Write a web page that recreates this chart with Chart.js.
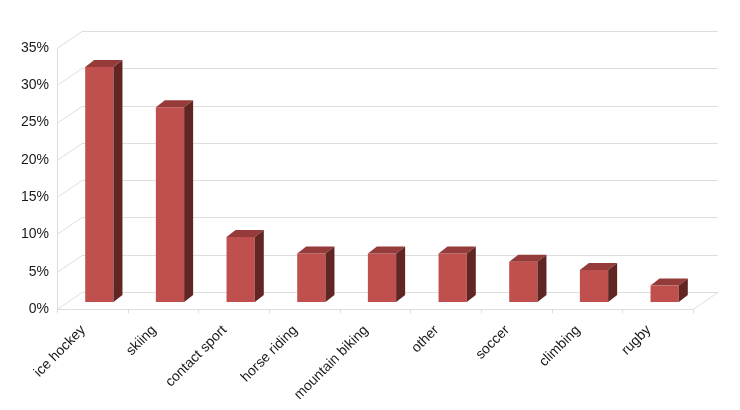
<!DOCTYPE html>
<html lang="en">
<head>
    <meta charset="UTF-8">
    <title>Injuries by sport</title>
    <script src="https://cdn.jsdelivr.net/npm/chart.js"></script>
    <style>
        body { margin: 0; background: #fff; }
        #wrap { width: 740px; height: 410px; position: relative; }
    </style>
</head>
<body>
    <div id="wrap">
        <canvas id="myChart"></canvas>
    </div>

    <script>
        // data
        const categories = ['ice hockey', 'skiing', 'contact sport', 'horse riding', 'mountain biking', 'other', 'soccer', 'climbing', 'rugby'];
        const shares = [31.5, 26.1, 8.7, 6.5, 6.5, 6.5, 5.4, 4.3, 2.2];
        const yMin = 0;
        const yMax = 35;
        const yStep = 5;

        // oblique "3d" offsets (px)
        const wall = { dx: 25, dy: -17 };
        const shift = { dx: 7, dy: -7 };
        const depth = { dx: 9, dy: -7 };

        const gridColor = '#dedede';

        const box3d = {
            id: 'box3d',
            beforeDatasetsDraw(chart) {
                const ctx = chart.ctx;
                const x = chart.scales.x, y = chart.scales.y;
                const { left, right, top, bottom } = chart.chartArea;
                ctx.save();
                ctx.strokeStyle = gridColor;
                ctx.lineWidth = 1;
                // back wall gridlines + side diagonals
                y.ticks.forEach(t => {
                    const py = Math.round(y.getPixelForValue(t.value)) + 0.5;
                    ctx.beginPath();
                    ctx.moveTo(left, py);
                    ctx.lineTo(left + wall.dx, py + wall.dy);
                    ctx.lineTo(right + wall.dx, py + wall.dy);
                    ctx.stroke();
                });
                // front axis line
                ctx.beginPath();
                ctx.moveTo(left + 0.5, top);
                ctx.lineTo(left + 0.5, bottom);
                ctx.stroke();
                // floor front edge
                const by = Math.round(bottom) + 0.5;
                ctx.beginPath();
                ctx.moveTo(left, by);
                ctx.lineTo(right, by);
                ctx.lineTo(right + wall.dx, by + wall.dy);
                ctx.stroke();
                // category ticks
                for (let i = 0; i <= categories.length; i++) {
                    const px = Math.round(x.getPixelForValue(i - 0.5)) + 0.5;
                    ctx.beginPath();
                    ctx.moveTo(px, by);
                    ctx.lineTo(px, by + 4);
                    ctx.stroke();
                }
                ctx.restore();

                ctx.save();
                ctx.translate(shift.dx, shift.dy);
            },
            afterDatasetsDraw(chart) {
                const ctx = chart.ctx;
                const meta = chart.getDatasetMeta(0);
                meta.data.forEach(bar => {
                    const p = bar.getProps(['x', 'y', 'base', 'width'], true);
                    const x0 = p.x - p.width / 2, x1 = p.x + p.width / 2;
                    // top
                    ctx.fillStyle = '#953c3a';
                    ctx.beginPath();
                    ctx.moveTo(x0, p.y);
                    ctx.lineTo(x0 + depth.dx, p.y + depth.dy);
                    ctx.lineTo(x1 + depth.dx, p.y + depth.dy);
                    ctx.lineTo(x1, p.y);
                    ctx.closePath();
                    ctx.fill();
                    // side
                    ctx.fillStyle = '#612624';
                    ctx.beginPath();
                    ctx.moveTo(x1, p.y);
                    ctx.lineTo(x1 + depth.dx, p.y + depth.dy);
                    ctx.lineTo(x1 + depth.dx, p.base + depth.dy);
                    ctx.lineTo(x1, p.base);
                    ctx.closePath();
                    ctx.fill();
                });
                ctx.restore();
            }
        };

        const ctx = document.getElementById('myChart');

        new Chart(ctx, {
            type: 'bar',
            data: {
                labels: categories,
                datasets: [{
                    data: shares,
                    backgroundColor: '#c0504d',
                    borderWidth: 0,
                    barPercentage: 0.4,
                    categoryPercentage: 1
                }]
            },
            options: {
                responsive: true,
                maintainAspectRatio: false,
                animation: false,
                layout: { padding: { top: 48, right: 47, left: 0, bottom: 0 } },
                plugins: { legend: { display: false }, tooltip: { enabled: false } },
                scales: {
                    x: {
                        grid: { display: false, drawTicks: false },
                        border: { display: false },
                        ticks: {
                            autoSkip: false,
                            maxRotation: 45,
                            minRotation: 45,
                            padding: 13,
                            labelOffset: -9,
                            color: '#1a1a1a',
                            font: { family: 'Liberation Sans', size: 14 }
                        },
                        afterFit: (s) => { s.height = 101; }
                    },
                    y: {
                        min: yMin,
                        max: yMax,
                        grid: { display: false, drawTicks: false },
                        border: { display: false },
                        ticks: {
                            stepSize: yStep,
                            padding: 8,
                            color: '#1a1a1a',
                            font: { family: 'Liberation Sans', size: 14 },
                            callback: (v) => v + '%'
                        },
                        afterFit: (s) => { s.width = 57; }
                    }
                }
            },
            plugins: [box3d]
        });
    </script>
</body>
</html>
